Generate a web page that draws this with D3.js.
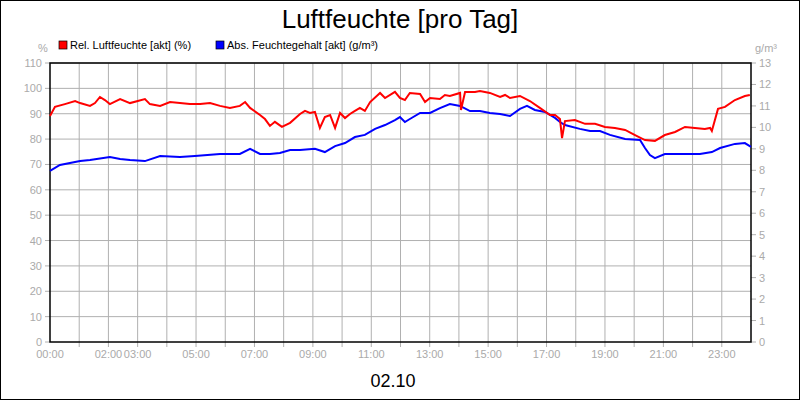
<!DOCTYPE html>
<html><head><meta charset="utf-8">
<script src="https://d3js.org/d3.v7.min.js"></script>
<style>body{margin:0;background:#fff}svg{font-family:"Liberation Sans",Arial,sans-serif}</style>
</head><body><svg id="c" width="800" height="400"></svg>
<script>
const relHours=[0,.17,.51,.86,1.03,1.37,1.54,1.71,1.88,2.05,2.40,2.74,3.25,3.42,3.77,4.11,4.45,4.79,5.14,5.48,5.82,6.16,6.50,6.68,6.85,7.19,7.36,7.53,7.70,7.94,8.22,8.56,8.73,8.90,9.07,9.24,9.41,9.59,9.76,9.93,10.10,10.27,10.44,10.61,10.78,10.96,11.30,11.47,11.81,11.98,12.15,12.32,12.67,12.84,13.01,13.35,13.52,13.69,14.04,14.07,14.21,14.55,14.72,15.06,15.41,15.58,15.75,16.09,16.43,16.77,17.12,17.29,17.46,17.53,17.63,17.97,18.32,18.66,19.0,19.34,19.69,20.03,20.37,20.71,21.05,21.4,21.74,22.08,22.42,22.6,22.66,22.87,23.11,23.45,23.79,23.96];
const relValues=[89.1,92.7,93.8,95.0,94.2,93.1,94.2,96.6,95.4,93.8,95.8,94.2,95.8,93.8,93.1,94.6,94.2,93.8,93.8,94.2,93.1,92.3,93.1,94.6,92.3,89.5,87.9,85.2,86.8,84.8,86.4,89.9,91.1,90.3,90.7,84.4,88.7,89.5,84.4,90.3,88.3,89.9,91.1,92.3,91.1,94.6,98.2,96.2,98.6,96.2,95.4,98.2,97.8,94.6,96.2,95.8,97.4,97.0,98.2,91.5,98.6,98.6,99.0,98.2,96.6,97.4,96.2,97.0,95.0,92.3,89.5,89.5,87.9,80.4,87.1,87.5,86.0,86.0,84.8,84.4,83.6,81.6,79.6,79.3,81.6,82.8,84.8,84.4,84.0,84.4,83.2,91.9,92.7,95.4,97.0,97.4];
const absHours=[0,.34,1.03,1.37,2.05,2.40,2.74,3.25,3.77,4.45,4.96,5.82,6.50,6.85,7.19,7.53,7.87,8.22,8.56,9.07,9.41,9.76,10.10,10.44,10.78,11.13,11.47,11.81,11.98,12.15,12.32,12.67,13.01,13.35,13.69,14.04,14.38,14.72,15.06,15.41,15.75,16.09,16.33,16.6,16.95,17.29,17.46,17.63,18.14,18.49,18.83,19.17,19.69,20.2,20.37,20.54,20.71,21.05,21.57,22.25,22.66,22.94,23.45,23.79,24];
const absValues=[7.97,8.25,8.43,8.48,8.62,8.53,8.48,8.43,8.67,8.62,8.67,8.76,8.76,9.0,8.76,8.76,8.81,8.95,8.95,9.0,8.85,9.13,9.27,9.55,9.65,9.93,10.11,10.34,10.48,10.25,10.39,10.67,10.67,10.9,11.09,11.0,10.76,10.76,10.67,10.62,10.53,10.86,11.0,10.81,10.72,10.44,10.25,10.11,9.93,9.83,9.83,9.65,9.46,9.41,9.04,8.71,8.57,8.76,8.76,8.76,8.85,9.04,9.23,9.27,9.09];
const leftTicks=d3.range(0,111,10);
const rightTicks=d3.range(0,14,1);
const xLabelHours=[0,2,3,5,7,9,11,13,15,17,19,21,23];
const pad=n=>String(n).padStart(2,"0")+":00";

const svg=d3.select("#c");
const L=50,R=751,T=63,B=342;
const x=d3.scaleLinear().domain([0,24]).range([L,R]);
const yL=d3.scaleLinear().domain([0,110]).range([B,T]);
const yR=d3.scaleLinear().domain([0,13]).range([B,T]);
const grey="#b0b0b0";
svg.append("rect").attr("x",0.5).attr("y",0.5).attr("width",799).attr("height",399).attr("fill","#fff").attr("stroke","#000");
const g=svg.append("g");
g.selectAll(".v").data(d3.range(1,24)).join("line").attr("x1",d=>x(d)).attr("x2",d=>x(d)).attr("y1",T).attr("y2",B+5).attr("stroke",grey);
g.selectAll(".h").data(leftTicks.slice(1)).join("line").attr("x1",L).attr("x2",R).attr("y1",d=>yL(d)).attr("y2",d=>yL(d)).attr("stroke",grey);
const ax=svg.append("g").attr("font-size",11).attr("fill","#aaa");
ax.selectAll(".lt").data(leftTicks).join("text").attr("x",L-8).attr("y",d=>yL(d)+4).attr("text-anchor","end").text(d=>d);
svg.selectAll(".ltk").data(leftTicks).join("line").attr("x1",L-5).attr("x2",L).attr("y1",d=>yL(d)).attr("y2",d=>yL(d)).attr("stroke",grey);
ax.selectAll(".rt").data(rightTicks).join("text").attr("x",R+8).attr("y",d=>yR(d)+4).attr("text-anchor","start").text(d=>d);
svg.selectAll(".rtk").data(rightTicks).join("line").attr("x1",R).attr("x2",R+5).attr("y1",d=>yR(d)).attr("y2",d=>yR(d)).attr("stroke",grey);
ax.selectAll(".xt").data(xLabelHours).join("text").attr("x",d=>x(d)).attr("y",B+16).attr("text-anchor","middle").text(pad);
ax.append("text").attr("x",43).attr("y",52).attr("text-anchor","middle").text("%");
ax.append("text").attr("x",766).attr("y",52).attr("text-anchor","middle").text("g/m³");
svg.append("rect").attr("x",L).attr("y",T).attr("width",R-L).attr("height",B-T).attr("fill","none").attr("stroke","#000").attr("stroke-width",1.5);
const lineL=d3.line().x(d=>x(d[0])).y(d=>yL(d[1]));
const lineR=d3.line().x(d=>x(d[0])).y(d=>yR(d[1]));
svg.append("path").attr("d",lineR(d3.zip(absHours,absValues))).attr("fill","none").attr("stroke","#0000ff").attr("stroke-width",2);
svg.append("path").attr("d",lineL(d3.zip(relHours,relValues))).attr("fill","none").attr("stroke","#ff0000").attr("stroke-width",2);
svg.append("text").attr("x",400).attr("y",28).attr("text-anchor","middle").attr("font-size",26).text("Luftfeuchte [pro Tag]");
svg.append("text").attr("x",393).attr("y",387).attr("text-anchor","middle").attr("font-size",18).text("02.10");
const leg=[["Rel. Luftfeuchte [akt] (%)","#ff0000",59],["Abs. Feuchtegehalt [akt] (g/m³)","#0000ff",216]];
leg.forEach(([t,c,lx])=>{svg.append("rect").attr("x",lx).attr("y",41).attr("width",8).attr("height",8).attr("fill",c).attr("stroke","#000").attr("stroke-width",0.7);
svg.append("text").attr("x",lx+11).attr("y",49).attr("font-size",11).text(t);});
</script></body></html>
